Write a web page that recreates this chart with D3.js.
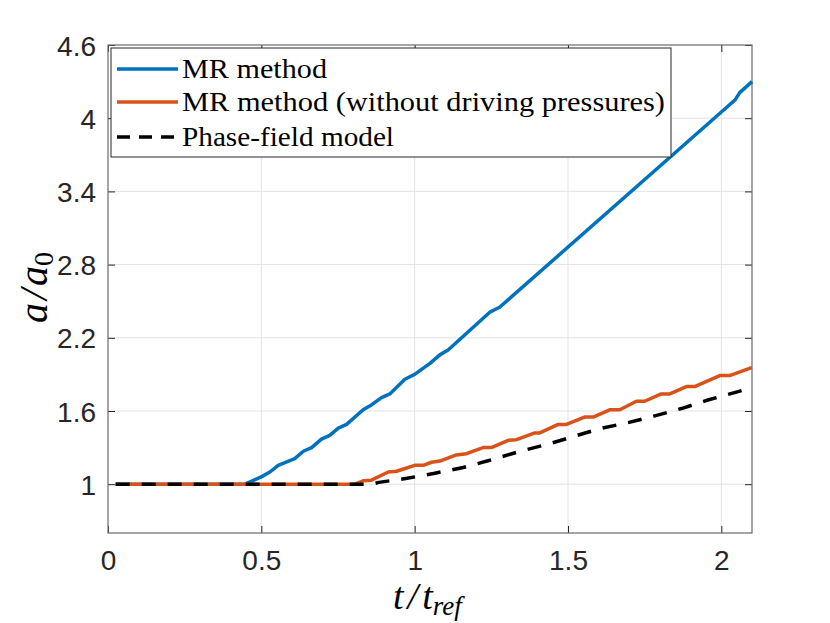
<!DOCTYPE html>
<html>
<head>
<meta charset="utf-8">
<script src="https://cdn.jsdelivr.net/npm/d3@7"></script>
<style>
  body { margin: 0; background: #fff; }
  svg { display: block; }
</style>
</head>
<body>
<svg id="chart" width="830" height="623"></svg>
<script>
// values
var tBlue = [0.025, 0.447, 0.5, 0.528, 0.555, 0.609, 0.637, 0.664, 0.696, 0.723, 0.751, 0.778, 0.832, 0.859, 0.892, 0.919, 0.968, 1.0, 1.05, 1.082, 1.109, 1.245, 1.277, 2.027, 2.045, 2.06, 2.1];
var aBlue = [1, 1, 1.06, 1.10, 1.155, 1.21, 1.27, 1.30, 1.37, 1.40, 1.46, 1.49, 1.61, 1.65, 1.71, 1.74, 1.86, 1.90, 1.99, 2.06, 2.10, 2.41, 2.45, 4.11, 4.15, 4.21, 4.30];

var tOrange = [0.025, 0.805, 0.832, 0.859, 0.914, 0.941, 1.0, 1.028, 1.055, 1.082, 1.136, 1.169, 1.223, 1.25, 1.305, 1.332, 1.392, 1.408, 1.468, 1.495, 1.554, 1.582, 1.636, 1.669, 1.723, 1.75, 1.804, 1.832, 1.886, 1.913, 1.995, 2.027, 2.092, 2.1];
var aOrange = [1, 1, 1.028, 1.033, 1.10, 1.106, 1.155, 1.155, 1.18, 1.19, 1.24, 1.25, 1.30, 1.30, 1.36, 1.365, 1.42, 1.42, 1.49, 1.49, 1.55, 1.55, 1.61, 1.61, 1.68, 1.68, 1.74, 1.74, 1.80, 1.80, 1.89, 1.89, 1.95, 1.955];

var tPhase = [0.025, 0.86, 0.883, 0.975, 1.066, 1.158, 1.245, 1.337, 1.43, 1.517, 1.603, 1.696, 1.783, 1.87, 1.956, 2.049, 2.1];
var aPhase = [1, 1, 1.015, 1.048, 1.09, 1.137, 1.196, 1.265, 1.325, 1.39, 1.455, 1.505, 1.56, 1.62, 1.69, 1.755, 1.79];

var xTicks = [0, 0.5, 1, 1.5, 2];
var yTicks = [1, 1.6, 2.2, 2.8, 3.4, 4, 4.6];

var seriesNames = ["MR method", "MR method (without driving pressures)", "Phase-field model"];
var seriesColors = ["#0072BD", "#D95319", "#000000"];
var seriesDash = [null, null, "14,12"];

(function() {
  var left = 108, right = 752, top = 45, bottom = 533;
  var axisColor = "#262626";

  var svg = d3.select("#chart");

  var x = d3.scaleLinear().domain([0, 2.1]).range([left, right]);
  var y = d3.scaleLinear().domain([0.6, 4.6]).range([bottom, top]);

  // grid
  svg.append("g").selectAll("line")
    .data(xTicks.filter(d => d > 0))
    .enter().append("line")
    .attr("x1", d => x(d)).attr("x2", d => x(d))
    .attr("y1", top).attr("y2", bottom)
    .attr("stroke", "#e3e3e3").attr("stroke-width", 1);

  svg.append("g").selectAll("line")
    .data(yTicks.filter(d => d < 4.6))
    .enter().append("line")
    .attr("x1", left).attr("x2", right)
    .attr("y1", d => y(d)).attr("y2", d => y(d))
    .attr("stroke", "#e3e3e3").attr("stroke-width", 1);

  // axes with inward ticks
  var tickLen = 7;
  var xAxis = svg.append("g")
    .attr("transform", "translate(0," + bottom + ")")
    .call(d3.axisBottom(x).tickValues(xTicks).tickSize(-tickLen).tickPadding(17).tickFormat(d3.format("")));
  var yAxis = svg.append("g")
    .attr("transform", "translate(" + left + ",0)")
    .call(d3.axisLeft(y).tickValues(yTicks).tickSize(-tickLen).tickPadding(12).tickFormat(d3.format("")));

  // top and right ticks (box on)
  svg.append("g")
    .attr("transform", "translate(0," + top + ")")
    .call(d3.axisTop(x).tickValues(xTicks).tickSize(-tickLen).tickFormat(""));
  svg.append("g")
    .attr("transform", "translate(" + right + ",0)")
    .call(d3.axisRight(y).tickValues(yTicks).tickSize(-tickLen).tickFormat(""));

  svg.selectAll(".domain").remove();
  svg.selectAll(".tick line").attr("stroke", axisColor).attr("stroke-width", 1);
  svg.selectAll(".tick text")
    .attr("fill", axisColor)
    .style("font-family", "'Liberation Sans', Arial, sans-serif")
    .style("font-size", "28px");
  xAxis.selectAll(".tick text").attr("dy", "0.71em");
  yAxis.selectAll(".tick text").attr("dy", "0.36em");

  svg.append("rect")
    .attr("x", left).attr("y", top)
    .attr("width", right - left).attr("height", bottom - top)
    .attr("fill", "none").attr("stroke", "#6a6a6a").attr("stroke-width", 1.2);

  // curves
  var line = d3.line().x(d => x(d[0])).y(d => y(d[1]));
  var series = [
    d3.zip(tBlue, aBlue),
    d3.zip(tOrange, aOrange),
    d3.zip(tPhase, aPhase)
  ];

  svg.append("g").selectAll("path")
    .data(series)
    .enter().append("path")
    .attr("d", line)
    .attr("fill", "none")
    .attr("stroke", (d, i) => seriesColors[i])
    .attr("stroke-width", 3.5)
    .attr("stroke-linejoin", "round")
    .attr("stroke-dasharray", (d, i) => seriesDash[i]);

  // legend
  var lg = svg.append("g");
  lg.append("rect")
    .attr("x", 111).attr("y", 48)
    .attr("width", 560).attr("height", 109)
    .attr("fill", "#fff").attr("stroke", axisColor).attr("stroke-width", 1);

  var rows = [69, 102, 137];
  var widths = [145, 483, 212];
  seriesNames.forEach(function(name, i) {
    lg.append("line")
      .attr("x1", 117).attr("x2", 178)
      .attr("y1", rows[i]).attr("y2", rows[i])
      .attr("stroke", seriesColors[i])
      .attr("stroke-width", 3.5)
      .attr("stroke-dasharray", seriesDash[i] ? "13,9" : null);
    lg.append("text")
      .attr("x", 182).attr("y", rows[i])
      .attr("dy", "0.33em")
      .attr("textLength", widths[i])
      .attr("lengthAdjust", "spacingAndGlyphs")
      .style("font-family", "'Liberation Serif', 'Times New Roman', serif")
      .style("font-size", "27px")
      .attr("fill", "#000")
      .text(name);
  });

  // axis labels (math italic imitation)
  var xl = svg.append("text")
    .attr("x", 393).attr("y", 609)
    .style("font-family", "'Liberation Serif', serif")
    .style("font-style", "italic")
    .style("font-size", "38px")
    .attr("fill", "#000");
  xl.append("tspan").text("t");
  xl.append("tspan").attr("dx", 4).text("/");
  xl.append("tspan").attr("dx", 4).text("t");
  xl.append("tspan").attr("dy", 6).style("font-size", "27px").text("ref");

  var yl = svg.append("text")
    .attr("transform", "translate(47,323) rotate(-90)")
    .style("font-family", "'Liberation Serif', serif")
    .style("font-style", "italic")
    .style("font-size", "40px")
    .attr("fill", "#000");
  yl.append("tspan").text("a");
  yl.append("tspan").attr("dx", 3).text("/");
  yl.append("tspan").attr("dx", 3).text("a");
  yl.append("tspan").attr("dy", 6).style("font-style", "normal").style("font-size", "28px").text("0");
})();
</script>
</body>
</html>
